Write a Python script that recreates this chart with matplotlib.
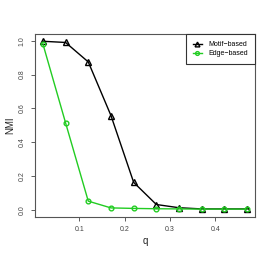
import matplotlib
matplotlib.use("Agg")
import matplotlib.pyplot as plt

q = [0.02, 0.07, 0.12, 0.17, 0.22, 0.27, 0.32, 0.37, 0.42, 0.47]
motif = [0.997, 0.99, 0.875, 0.558, 0.163, 0.032, 0.013, 0.006, 0.006, 0.006]
edge = [0.982, 0.515, 0.052, 0.012, 0.009, 0.007, 0.006, 0.005, 0.005, 0.005]
xticks = [0.1, 0.2, 0.3, 0.4]
yticks = [0.0, 0.2, 0.4, 0.6, 0.8, 1.0]

plt.rcParams['font.family'] = ['Liberation Sans', 'DejaVu Sans']

fig = plt.figure(figsize=(2.73, 2.62), dpi=100)
ax = fig.add_axes([34.7/273, 1-216.7/262, (255.3-34.7)/273, (216.7-34)/262])

green = '#22cc22'
ax.plot(q, motif, color='black', lw=1.0, marker='^', ms=4.3, mfc='none', mec='black', mew=1.0, label='Motif\u2212based')
ax.plot(q, edge, color=green, lw=1.0, marker='o', ms=3.4, mfc='none', mec=green, mew=1.0, label='Edge\u2212based')

ax.set_xlim(0.002, 0.488)
ax.set_ylim(-0.04, 1.04)
ax.set_xticks(xticks)
ax.set_xticklabels([f"{t:.1f}" for t in xticks])
ax.set_yticks(yticks)
ax.set_yticklabels([f"{t:.1f}" for t in yticks], rotation=90, va='center')
ax.tick_params(labelsize=5, length=3, width=0.6, colors='#444444', labelcolor='#444444', pad=3.4)
for s in ax.spines.values():
    s.set_linewidth(0.8)
    s.set_color('#555555')
ax.set_xlabel('q', fontsize=7, color='#222222')
ax.set_ylabel('NMI', fontsize=7, color='#222222')
ax.xaxis.set_label_coords(0.5, (216.7-235.5)/182.7)
ax.yaxis.set_label_coords((15.0-34.7)/220.6, 0.5)

leg = ax.legend(loc='upper right', fontsize=5, frameon=True, fancybox=False,
                edgecolor='#333333', framealpha=1, borderaxespad=0, handlelength=1.3,
                borderpad=1.0, labelspacing=0.35, handletextpad=1.0, markerscale=0.8)
leg.get_frame().set_linewidth(0.8)

fig.savefig('out.png', dpi=100)
